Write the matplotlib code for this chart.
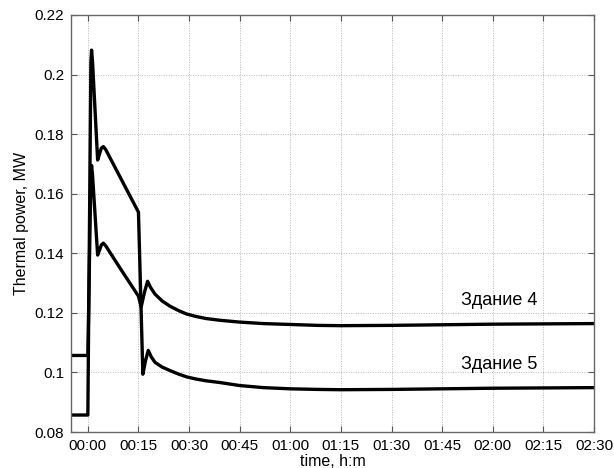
import matplotlib
matplotlib.use('Agg')
import matplotlib.pyplot as plt
from matplotlib.ticker import FuncFormatter, FixedLocator

# Data (time in minutes, power in MW)
t4 = [-5, 0.0, 0.9, 1.1, 1.4, 2.9, 3.5, 4.0, 4.6, 5.3, 9.5, 15.0, 15.8, 16.8,
      17.7, 18.6, 19.9, 22, 24.4, 27, 29.3, 32, 35, 39.2, 45, 52, 60, 68, 75,
      90, 105, 120, 135, 150]
p4 = [0.1057, 0.1057, 0.1660, 0.1695, 0.1660, 0.1394, 0.1412, 0.1428, 0.1434,
      0.1425, 0.1351, 0.1256, 0.1220, 0.1270, 0.1306, 0.1285, 0.1263, 0.1240,
      0.1222, 0.1207, 0.1196, 0.1188, 0.1181, 0.1175, 0.1169, 0.1164, 0.1161,
      0.1158, 0.1157, 0.1158, 0.1160, 0.1162, 0.1163, 0.1164]

t5 = [-5, 0.0, 0.9, 1.1, 1.4, 2.9, 3.5, 4.0, 4.6, 5.3, 15.0, 16.3, 17.1,
      17.9, 18.8, 19.9, 22, 24.4, 27, 29.3, 32, 35, 39.2, 45, 52, 60, 68, 75,
      90, 105, 120, 135, 150]
p5 = [0.0857, 0.0857, 0.2040, 0.2082, 0.2040, 0.1713, 0.1735, 0.1753, 0.1758,
      0.1748, 0.1538, 0.0994, 0.1040, 0.1074, 0.1052, 0.1034, 0.1018, 0.1006,
      0.0994, 0.0985, 0.0978, 0.0972, 0.0966, 0.0956, 0.0949, 0.0945, 0.0943,
      0.0942, 0.0943, 0.0945, 0.0947, 0.0948, 0.0949]

xticks = list(range(0, 151, 15))
yticks = [0.08, 0.10, 0.12, 0.14, 0.16, 0.18, 0.20, 0.22]

plt.rcParams['font.family'] = ['Liberation Sans', 'DejaVu Sans']

fig = plt.figure(figsize=(6.14, 4.68), dpi=100)
ax = fig.add_axes([0.1156, 0.0769, 0.8518, 0.8911])

ax.plot(t4, p4, color='black', lw=2.4, solid_joinstyle='round')
ax.plot(t5, p5, color='black', lw=2.4, solid_joinstyle='round')

ax.set_xlim(-5, 150)
ax.set_ylim(0.08, 0.22)
ax.xaxis.set_major_locator(FixedLocator(xticks))
ax.yaxis.set_major_locator(FixedLocator(yticks))
ax.xaxis.set_major_formatter(FuncFormatter(lambda v, p: '%02d:%02d' % (int(v) // 60, int(v) % 60)))
ax.yaxis.set_major_formatter(FuncFormatter(lambda v, p: '%g' % round(v, 2)))

ax.grid(True, linestyle=(0, (1, 1.5)), color='#b8b8b8', linewidth=0.7)
ax.tick_params(direction='in', top=True, right=True, length=4, labelsize=11,
               color='#555555', pad=5)
for s in ax.spines.values():
    s.set_color('#666666')
    s.set_linewidth(1.0)

ax.set_xlabel('time, h:m', fontsize=11.5, labelpad=1)
ax.set_ylabel('Thermal power, MW', fontsize=11.5, labelpad=4)

ax.text(122, 0.124, 'Здание 4', fontsize=13, ha='center', va='center')
ax.text(122, 0.1025, 'Здание 5', fontsize=13, ha='center', va='center')

fig.savefig('out.png', dpi=100)
